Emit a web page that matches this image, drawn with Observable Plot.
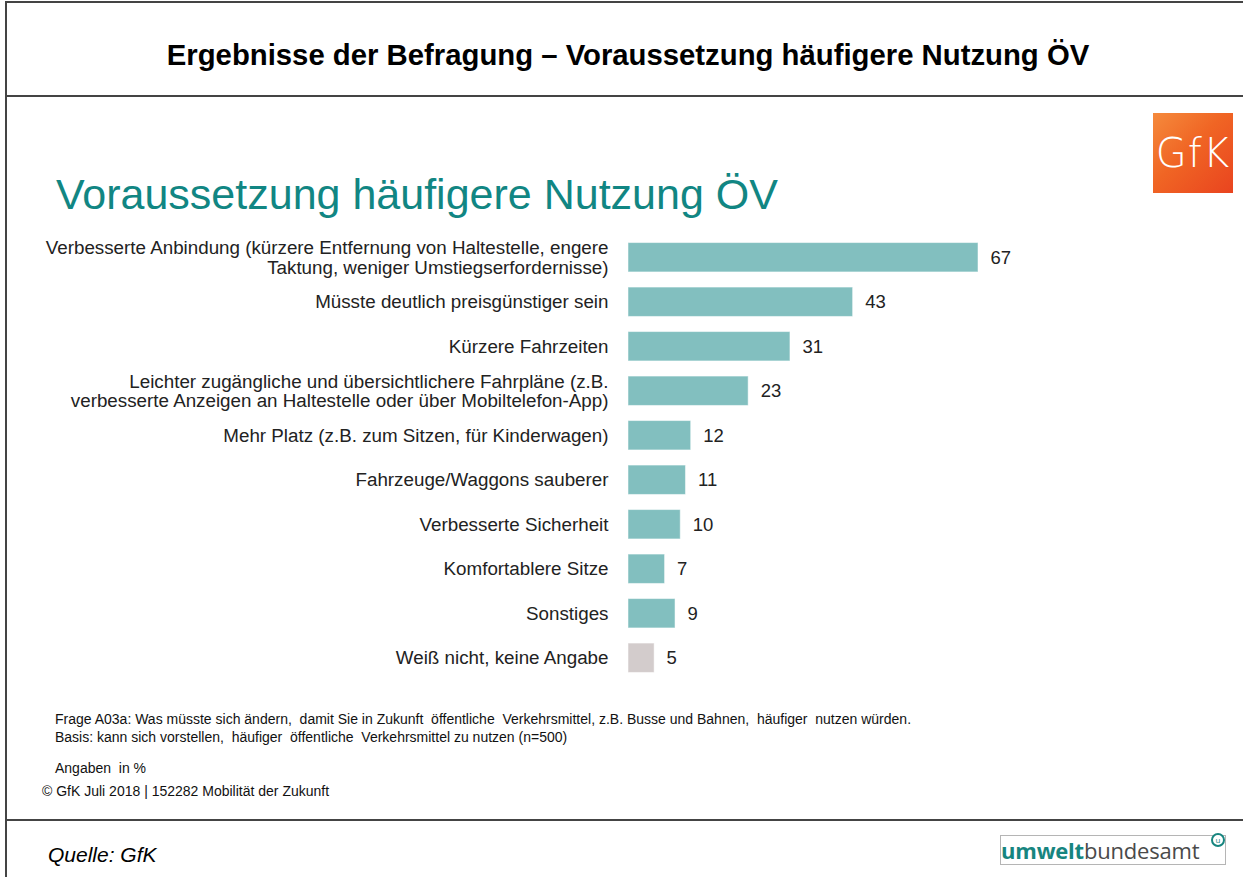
<!DOCTYPE html>
<html>
<head>
<meta charset="utf-8">
<script src="https://cdn.jsdelivr.net/npm/d3@7"></script>
<script src="https://cdn.jsdelivr.net/npm/@observablehq/plot@0.6"></script>
<style>
  html, body { margin: 0; padding: 0; background: #fff; }
  #page { position: relative; width: 1243px; height: 877px; overflow: hidden; font-family: "Liberation Sans", Arial, sans-serif; }
  .abs { position: absolute; }
  #frame { left: 5px; top: 1px; width: 1250px; height: 900px; border-left: 2px solid #444; border-top: 2px solid #444; }
  .hline { left: 5px; width: 1240px; height: 2px; background: #444; }
  #title { left: 0; width: 1256px; top: 38px; text-align: center; font-weight: bold; font-size: 29.3px; color: #000; white-space: nowrap; }
  #subtitle { left: 56px; top: 170px; font-size: 43px; color: #118683; white-space: nowrap; }
  #gfk { left: 1153px; top: 113px; width: 80px; height: 80px; background: linear-gradient(135deg, #f58a3c 0%, #f06524 45%, #e9441f 100%); color: #fff; font-size: 40px; line-height: 80px; text-align: center; letter-spacing: 1px; font-family: "DejaVu Sans", sans-serif; font-weight: 300; }
  #chart { left: 0; top: 235px; }
  .note { font-size: 14px; color: #111; white-space: nowrap; }
  #quelle { left: 48px; top: 843px; font-size: 21px; font-style: italic; color: #000; }
  #uba { left: 1000px; top: 835px; width: 224px; height: 28px; border: 1px solid #b5b5b5; font-size: 22px; line-height: 28px; white-space: nowrap; font-family: "Open Sans", "DejaVu Sans", sans-serif; letter-spacing: -0.2px; }
  #uba b { color: #17857f; font-weight: 700; }
  #uba span { color: #4a4a4a; }
  #uba i { position: absolute; right: 0px; top: -3px; width: 10px; height: 10px; border: 2px solid #17857f; border-radius: 50%; font-style: normal; font-size: 8px; line-height: 10px; text-align: center; color: #17857f; background: #fff; letter-spacing: 0; }
</style>
</head>
<body>
<div id="page">
  <div id="frame" class="abs"></div>
  <div class="abs hline" style="top:95px"></div>
  <div class="abs hline" style="top:819px"></div>
  <div id="title" class="abs">Ergebnisse der Befragung – Voraussetzung häufigere Nutzung ÖV</div>
  <div id="subtitle" class="abs">Voraussetzung häufigere Nutzung ÖV</div>
  <div id="gfk" class="abs">GfK</div>
  <div id="chart" class="abs"></div>
  <div class="abs note" style="left:55px; top:711px;">Frage A03a: Was müsste sich ändern,&nbsp; damit Sie in Zukunft&nbsp; öffentliche&nbsp; Verkehrsmittel, z.B. Busse und Bahnen,&nbsp; häufiger&nbsp; nutzen würden.</div>
  <div class="abs note" style="left:55px; top:729px;">Basis: kann sich vorstellen,&nbsp; häufiger&nbsp; öffentliche&nbsp; Verkehrsmittel zu nutzen (n=500)</div>
  <div class="abs note" style="left:55px; top:760px;">Angaben&nbsp; in %</div>
  <div class="abs note" style="left:42px; top:783px;">© GfK Juli 2018 | 152282 Mobilität der Zukunft</div>
  <div id="quelle" class="abs">Quelle: GfK</div>
  <div id="uba" class="abs"><b>umwelt</b><span>bundesamt</span><i>u</i></div>
</div>
<script>
const categories = [
  "Verbesserte Anbindung (kürzere Entfernung von Haltestelle, engere\nTaktung, weniger Umstiegserfordernisse)",
  "Müsste deutlich preisgünstiger sein",
  "Kürzere Fahrzeiten",
  "Leichter zugängliche und übersichtlichere Fahrpläne (z.B.\nverbesserte Anzeigen an Haltestelle oder über Mobiltelefon-App)",
  "Mehr Platz (z.B. zum Sitzen, für Kinderwagen)",
  "Fahrzeuge/Waggons sauberer",
  "Verbesserte Sicherheit",
  "Komfortablere Sitze",
  "Sonstiges",
  "Weiß nicht, keine Angabe"
];
const values = [67, 43, 31, 23, 12, 11, 10, 7, 9, 5];
const groups = ["answer","answer","answer","answer","answer","answer","answer","answer","answer","unknown"];

const data = categories.map((c, i) => ({label: c, value: values[i], group: groups[i]}));

const chart = Plot.plot({
  width: 1243,
  height: 445,
  marginTop: 0,
  marginBottom: 0,
  marginLeft: 628,
  marginRight: 265,
  style: {fontFamily: "'Liberation Sans', Arial, sans-serif", fontSize: "19px", color: "#222", background: "transparent"},
  x: {domain: [0, 67], axis: null},
  y: {domain: categories, paddingInner: 0.34, paddingOuter: 0.17, round: false, axis: null},
  color: {domain: ["answer", "unknown"], range: ["#82bfbf", "#d3cccc"]},
  marks: [
    Plot.barX(data, {x: "value", y: "label", fill: "group", stroke: "#ffffff", strokeOpacity: 0.5, strokeWidth: 1}),
    Plot.text(data, {x: 0, y: "label", text: "label", textAnchor: "end", dx: -20, lineHeight: 1.03, fill: "#222", fontSize: 18.8}),
    Plot.text(data, {x: "value", y: "label", text: d => String(d.value), textAnchor: "start", dx: 12, fill: "#222", fontSize: 18.5})
  ]
});
document.getElementById("chart").appendChild(chart);
</script>
</body>
</html>
